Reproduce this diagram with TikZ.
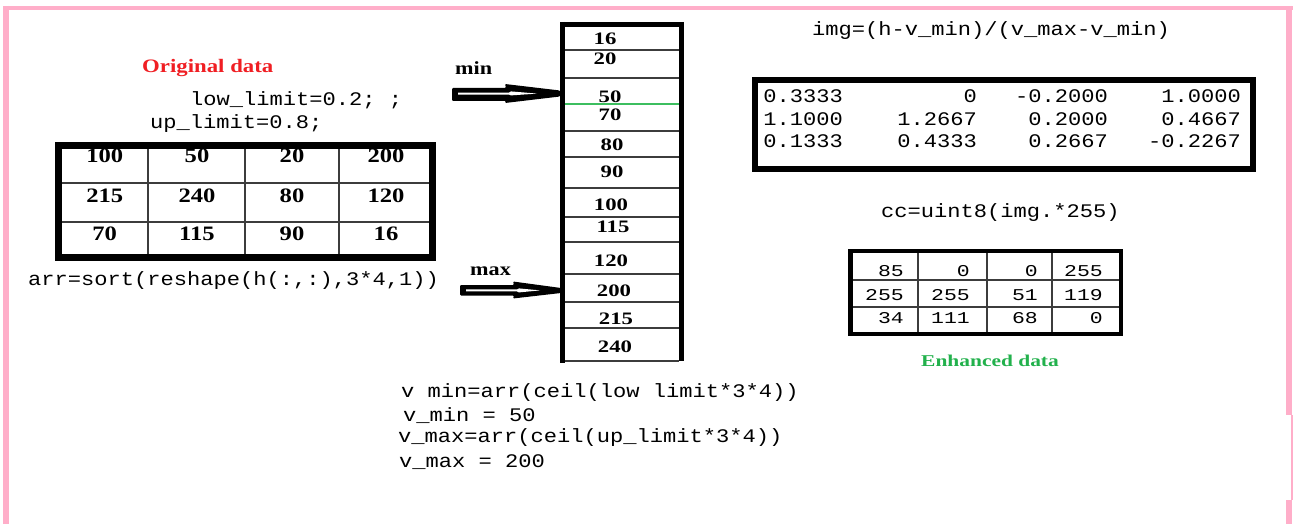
\documentclass[tikz,border=0pt]{standalone}
\usepackage{fontspec}
\newfontfamily\codefont[FakeStretch=1.15]{Liberation Mono}
\newfontfamily\monoB[FakeStretch=1.3]{Liberation Mono}
\newfontfamily\serA[FakeStretch=1.2]{Liberation Serif}
\newfontfamily\serB[FakeStretch=1.3]{Liberation Serif}
\definecolor{pinkb}{RGB}{255,174,201}
\definecolor{redlab}{RGB}{240,30,35}
\definecolor{greenlab}{RGB}{34,177,76}
\definecolor{greenline}{RGB}{60,190,95}
\definecolor{gridc}{RGB}{60,60,60}
\tikzset{
  code/.style={anchor=base west, inner sep=0pt, font=\codefont\fontsize{19.2}{19.2}\selectfont},
  matnum/.style={anchor=base east, inner sep=0pt, font=\codefont\fontsize{19.2}{19.2}\selectfont},
  enhnum/.style={anchor=base east, inner sep=0pt, font=\monoB\fontsize{16.5}{16.5}\selectfont},
  tabnum/.style={anchor=base, inner sep=0pt, font=\serA\bfseries\fontsize{20.5}{20.5}\selectfont},
  colnum/.style={anchor=base, inner sep=0pt, font=\serB\bfseries\fontsize{17.5}{17.5}\selectfont},
  biglab/.style={anchor=base west, inner sep=0pt, font=\serA\bfseries\fontsize{19}{19}\selectfont},
  arrlab/.style={anchor=base west, inner sep=0pt, font=\serA\bfseries\fontsize{18.5}{18.5}\selectfont},
  enhlab/.style={anchor=base west, inner sep=0pt, font=\serB\bfseries\fontsize{16.5}{16.5}\selectfont},
  thinline/.style={draw=gridc, line width=1.5pt},
}
\begin{document}
\begin{tikzpicture}[x=1pt,y=-1pt]
\useasboundingbox (0,0) rectangle (1293,524);
\fill[white] (0,0) rectangle (1293,524);
% pink frame
\draw[pinkb, line width=4pt] (3,8) -- (1293,8);
\draw[pinkb, line width=6pt] (6,6) -- (6,524);
\draw[pinkb, line width=6pt] (1289,6) -- (1289,415);
\draw[pinkb, line width=1.5pt] (1292,415) -- (1292,500);
\draw[pinkb, line width=6pt] (1289,500) -- (1289,524);

% ---------- original data ----------
\node[biglab, text=redlab] (orig) at (142,73) {Original data};
\node[code] (low) at (190,106) {low\_limit=0.2; ;};
\node[code] (up) at (150,129) {up\_limit=0.8;};
\foreach \x in {148,245,339} \draw[thinline] (\x,146) -- (\x,258);
\foreach \y in {183,222} \draw[thinline] (59,\y) -- (432,\y);
\draw[black, line width=7pt] (58.5,145.5) rectangle (432.5,257.5);
\foreach \r/\yy/\vals in {1/162/{100,50,20,200},2/202/{215,240,80,120},3/240/{70,115,90,16}}{
  \foreach \v [count=\c] in \vals {
    \pgfmathsetmacro\xx{{104.7,197,292,386}[\c-1]}
    \node[tabnum] (o\r\c) at (\xx,\yy) {\v};
  }
}
\node[code] (arr) at (28,285) {arr=sort(reshape(h(:,:),3*4,1))};

% ---------- sorted column ----------
\foreach \y in {50,78,131,157,188,217,242,274,302,328,361} \draw[thinline] (565,\y) -- (679,\y);
\draw[greenline, line width=1.3pt] (565,104) -- (679,104);
\draw[black, line width=5pt] (562.5,22) -- (562.5,363);
\draw[black, line width=5pt] (681.5,22) -- (681.5,361);
\draw[black, line width=4.5pt] (560,24.5) -- (684,24.5);
\foreach \v/\xx/\yy in {16/605/45,20/605/65,50/610/103,70/610/121,80/612/150,90/612/178,100/611/210,115/613/232,120/611/266,200/614/296,215/616/324,240/615/352}{
  \node[colnum] (s\v) at (\xx,\yy) {\v};
}

% ---------- min / max arrows ----------
\node[arrlab] (minlab) at (455,75) {min};
\node[arrlab] (maxlab) at (470,275) {max};
\coordinate (mintip) at (560,93.5);
\coordinate (maxtip) at (561,290.5);
\fill[black, rounded corners=1pt] (452,88) -- (506,88) -- (505,84) -- (mintip|-0,90.5) -- (mintip|-0,96.5) -- (505,103) -- (506,101) -- (452,101) -- cycle;
\fill[white] (458,92.6) -- (509,92.6) -- (511,91.4) -- (537,93.6) -- (511,95.4) -- (509,94.6) -- (458,94.6) -- cycle;
\fill[black, rounded corners=1pt] (460,285) -- (514,285) -- (513,281.5) -- (maxtip|-0,288) -- (maxtip|-0,293) -- (513,298.5) -- (514,295.5) -- (460,295.5) -- cycle;
\fill[white] (466,289.4) -- (517,289.4) -- (519,288.4) -- (540,290.4) -- (519,292.4) -- (517,291.4) -- (466,291.4) -- cycle;

% ---------- bottom formulas ----------
\node[code] (vminf) at (401,397) {v min=arr(ceil(low limit*3*4))};
\node[code] (vmin) at (403,421.5) {v\_min = 50};
\node[code] (vmaxf) at (398,442) {v\_max=arr(ceil(up\_limit*3*4))};
\node[code] (vmax) at (399,467) {v\_max = 200};

% ---------- normalised matrix ----------
\node[code] (imgf) at (812,36) {img=(h-v\_min)/(v\_max-v\_min)};
\draw[black, line width=6pt] (755,80) rectangle (1253,169);
\foreach \r/\yy/\vals in {1/103/{0.3333,0,-0.2000,1.0000},2/125.5/{1.1000,1.2667,0.2000,0.4667},3/148/{0.1333,0.4333,0.2667,-0.2267}}{
  \foreach \v [count=\c] in \vals {
    \pgfmathsetmacro\xx{{843,977,1108,1241}[\c-1]}
    \node[matnum] (m\r\c) at (\xx,\yy) {\v};
  }
}

% ---------- enhanced table ----------
\node[code] (ccf) at (881,217) {cc=uint8(img.*255)};
\foreach \x in {918,987,1052} \draw[thinline] (\x,252) -- (\x,333);
\foreach \y in {280,307} \draw[thinline] (852,\y) -- (1120,\y);
\draw[black, line width=5pt] (850.5,249) -- (850.5,336);
\draw[black, line width=4pt] (848,251) -- (1123,251);
\draw[black, line width=4pt] (1121,249) -- (1121,336);
\draw[black, line width=4pt] (848,334) -- (1123,334);
\foreach \r/\yy/\vals in {1/276/{85,0,0,255},2/300/{255,255,51,119},3/323/{34,111,68,0}}{
  \foreach \v [count=\c] in \vals {
    \pgfmathsetmacro\xx{{904,970,1038,1103}[\c-1]}
    \node[enhnum] (e\r\c) at (\xx,\yy) {\v};
  }
}
\node[enhlab, text=greenlab] (enh) at (921,366) {Enhanced data};
\end{tikzpicture}
\end{document}
